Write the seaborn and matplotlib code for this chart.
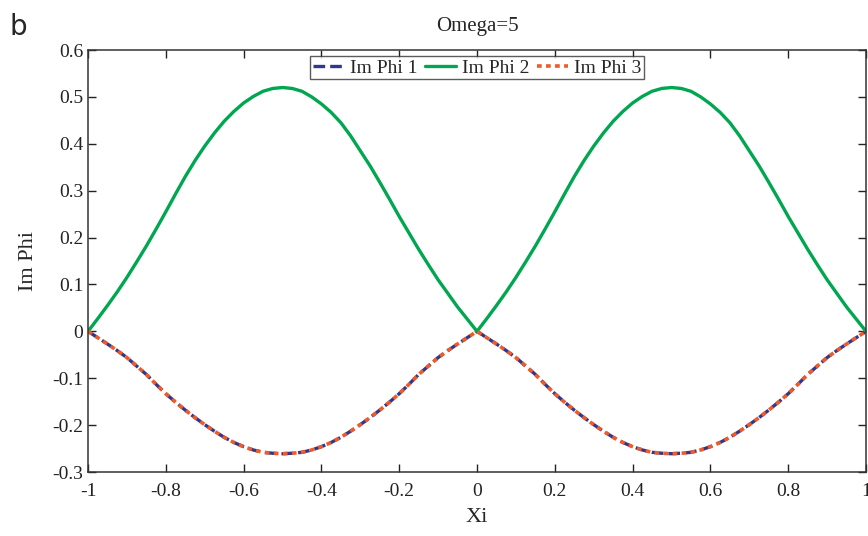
import numpy as np
import pandas as pd
import seaborn as sns
import matplotlib
matplotlib.use('Agg')
from matplotlib import pyplot as plt
from matplotlib import ticker

# values
xi = [-1.0, -0.975, -0.95, -0.925, -0.9, -0.875, -0.85, -0.825, -0.8, -0.775,
      -0.75, -0.725, -0.7, -0.675, -0.65, -0.625, -0.6, -0.575, -0.55, -0.525,
      -0.5, -0.475, -0.45, -0.425, -0.4, -0.375, -0.35, -0.325, -0.3, -0.275,
      -0.25, -0.225, -0.2, -0.175, -0.15, -0.125, -0.1, -0.075, -0.05, -0.025,
      0.0, 0.025, 0.05, 0.075, 0.1, 0.125, 0.15, 0.175, 0.2, 0.225,
      0.25, 0.275, 0.3, 0.325, 0.35, 0.375, 0.4, 0.425, 0.45, 0.475,
      0.5, 0.525, 0.55, 0.575, 0.6, 0.625, 0.65, 0.675, 0.7, 0.725,
      0.75, 0.775, 0.8, 0.825, 0.85, 0.875, 0.9, 0.925, 0.95, 0.975, 1.0]

im_phi_2 = [0.0, 0.027, 0.055, 0.084, 0.115, 0.148, 0.182, 0.218, 0.255, 0.293,
            0.330, 0.364, 0.395, 0.423, 0.448, 0.469, 0.487, 0.501, 0.512, 0.518,
            0.520, 0.518, 0.512, 0.500, 0.485, 0.467, 0.445, 0.417, 0.385, 0.353,
            0.318, 0.282, 0.245, 0.210, 0.175, 0.142, 0.110, 0.081, 0.052, 0.026,
            0.0, 0.027, 0.055, 0.084, 0.115, 0.148, 0.182, 0.218, 0.255, 0.293,
            0.330, 0.364, 0.395, 0.423, 0.448, 0.469, 0.487, 0.501, 0.512, 0.518,
            0.520, 0.518, 0.512, 0.500, 0.485, 0.467, 0.445, 0.417, 0.385, 0.353,
            0.318, 0.282, 0.245, 0.210, 0.175, 0.142, 0.110, 0.081, 0.052, 0.026, 0.0]

im_phi_1 = [0.0, -0.0135, -0.027, -0.041, -0.056, -0.074, -0.092, -0.113, -0.133, -0.151,
            -0.168, -0.184, -0.199, -0.213, -0.226, -0.237, -0.246, -0.253, -0.258, -0.260,
            -0.261, -0.260, -0.258, -0.253, -0.246, -0.237, -0.226, -0.213, -0.199, -0.184,
            -0.168, -0.151, -0.133, -0.113, -0.092, -0.074, -0.056, -0.041, -0.027, -0.0135,
            0.0, -0.0135, -0.027, -0.041, -0.056, -0.074, -0.092, -0.113, -0.133, -0.151,
            -0.168, -0.184, -0.199, -0.213, -0.226, -0.237, -0.246, -0.253, -0.258, -0.260,
            -0.261, -0.260, -0.258, -0.253, -0.246, -0.237, -0.226, -0.213, -0.199, -0.184,
            -0.168, -0.151, -0.133, -0.113, -0.092, -0.074, -0.056, -0.041, -0.027, -0.0135, 0.0]

im_phi_3 = list(im_phi_1)

labels = ['Im Phi 1', 'Im Phi 2', 'Im Phi 3']
xticks = [-1, -0.8, -0.6, -0.4, -0.2, 0, 0.2, 0.4, 0.6, 0.8, 1]
yticks = [-0.3, -0.2, -0.1, 0, 0.1, 0.2, 0.3, 0.4, 0.5, 0.6]

sns.set_style('ticks')
plt.rcParams['font.family'] = ['Liberation Serif', 'DejaVu Serif']

df = pd.DataFrame({'Xi': xi, 'p1': im_phi_1, 'p2': im_phi_2, 'p3': im_phi_3})

fig = plt.figure(figsize=(8.68, 5.36), dpi=100)
ax = fig.add_axes([0.1014, 0.1194, 0.8963, 0.7873])

sns.lineplot(data=df, x='Xi', y='p1', ax=ax, color='#2B3990', lw=2.4,
             linestyle=(0, (3.5, 1.5)), label=labels[0])
sns.lineplot(data=df, x='Xi', y='p2', ax=ax, color='#00A650', lw=2.4,
             label=labels[1])
sns.lineplot(data=df, x='Xi', y='p3', ax=ax, color='#F05A28', lw=2.6,
             linestyle=(0, (1.3, 1.2)), label=labels[2])

ax.set_xlim(-1, 1)
ax.set_ylim(-0.3, 0.6)
ax.set_xticks(xticks)
ax.set_yticks(yticks)
ax.xaxis.set_major_formatter(ticker.FormatStrFormatter('%g'))
ax.yaxis.set_major_formatter(ticker.FormatStrFormatter('%g'))
ax.tick_params(direction='in', top=True, right=True, length=6, width=1,
               labelsize=14, colors='#222222')
ax.tick_params(axis='x', pad=8)
for s in ax.spines.values():
    s.set_linewidth(1.1)
    s.set_color('#333333')

ax.set_xlabel('Xi', fontsize=16, labelpad=6)
ax.set_ylabel('Im Phi', fontsize=16, labelpad=10)
ax.set_title('Omega=5', fontsize=15, pad=14)

leg = ax.legend(loc='upper center', bbox_to_anchor=(0.5, 0.995), ncol=3,
                fontsize=14, frameon=True, fancybox=False, handlelength=1.6,
                handletextpad=0.3, columnspacing=0.4, borderpad=0.15,
                borderaxespad=0.2)
leg.get_frame().set_edgecolor('#333333')
leg.get_frame().set_linewidth(1.0)

fig.text(0.011, 0.935, 'b', fontsize=20, family='DejaVu Sans')

fig.savefig('out.png', dpi=100)
